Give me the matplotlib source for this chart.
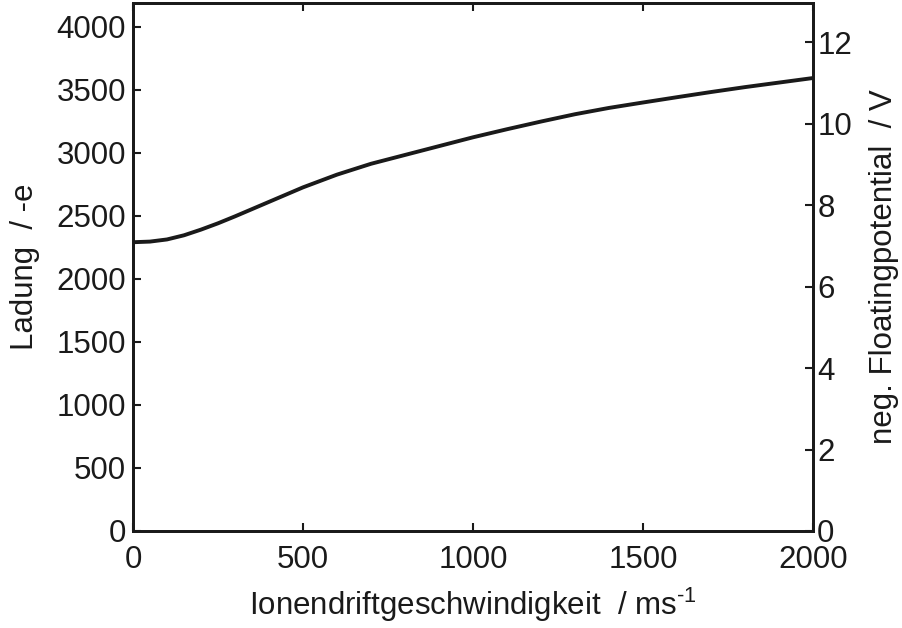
import matplotlib
matplotlib.use('Agg')
import matplotlib.pyplot as plt

# Ion drift velocity (m/s) vs. dust charge (elementary charges)
velocity = [0, 50, 100, 150, 200, 250, 300, 400, 500, 600, 700, 800, 900, 1000,
            1100, 1200, 1300, 1400, 1500, 1600, 1700, 1800, 1900, 2000]
charge = [2290, 2295, 2312, 2345, 2390, 2440, 2495, 2610, 2725, 2826, 2912, 2982,
          3052, 3122, 3186, 3247, 3305, 3355, 3398, 3440, 3481, 3520, 3556, 3592]

x_ticks = [0, 500, 1000, 1500, 2000]
left_ticks = [0, 500, 1000, 1500, 2000, 2500, 3000, 3500, 4000]
right_ticks = [0, 2, 4, 6, 8, 10, 12]

plt.rcParams['font.family'] = ['Liberation Sans', 'DejaVu Sans']
plt.rcParams['mathtext.fontset'] = 'custom'
plt.rcParams['mathtext.rm'] = 'Liberation Sans'

fig = plt.figure(figsize=(9.02, 6.28), dpi=100)
ax = fig.add_axes([133 / 902, 97 / 628, 680 / 902, 528 / 628])
ax2 = ax.twinx()

ax.plot(velocity, charge, color='#1a1a1a', lw=2.8, solid_capstyle='butt')

ax.set_xlim(0, 2000)
ax.set_ylim(0, 4187)
ax2.set_ylim(0, 12.96)

ax.set_xticks(x_ticks)
ax.set_yticks(left_ticks)
ax2.set_yticks(right_ticks)

fs = 22.5
ax.tick_params(axis='both', direction='in', length=6, width=1.5,
               labelsize=fs, color='#1a1a1a', labelcolor='#1a1a1a',
               top=True, right=False)
ax.tick_params(axis='x', pad=10)
ax.tick_params(axis='y', pad=5)
ax2.tick_params(axis='y', direction='in', length=6, width=1.5,
                labelsize=fs, pad=3, color='#1a1a1a', labelcolor='#1a1a1a')

for a in (ax, ax2):
    for s in a.spines.values():
        s.set_linewidth(2.0)
        s.set_color('#1a1a1a')

ax.set_xlabel('Ionendriftgeschwindigkeit  / ms$^{\\text{-1}}$',
              fontsize=fs, color='#1a1a1a')
ax.set_ylabel('Ladung  / -e', fontsize=fs, color='#1a1a1a')
ax2.set_ylabel('neg. Floatingpotential  / V', fontsize=fs, color='#1a1a1a')

ax.xaxis.set_label_coords(0.5, -0.104)
ax.yaxis.set_label_coords(-0.137, 0.5)
ax2.yaxis.set_label_coords(1.082, 0.5)

fig.savefig('out.png', dpi=100)
